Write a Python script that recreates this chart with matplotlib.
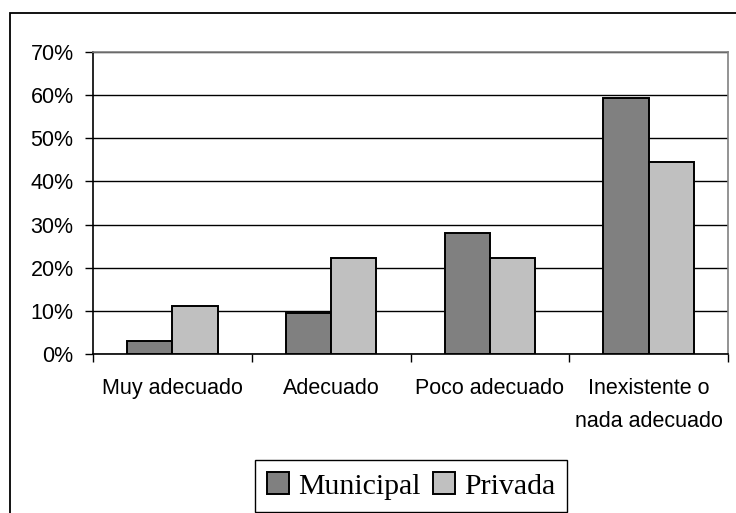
import numpy as np
import matplotlib.pyplot as plt
from matplotlib.patches import Rectangle
from matplotlib.ticker import FixedLocator

# data
categorias = ["Muy adecuado", "Adecuado", "Poco adecuado", "Inexistente o\nnada adecuado"]
municipal = [3.1, 9.4, 28.1, 59.4]
privada = [11.1, 22.2, 22.2, 44.4]
yticks = [0, 10, 20, 30, 40, 50, 60, 70]

plt.rcParams['font.family'] = ['Liberation Sans', 'DejaVu Sans']

fig = plt.figure(figsize=(7.36, 5.13), dpi=100)
ax = fig.add_axes([93/736, 1-354/513, (728-93)/736, (354-52)/513])

# outer frame of the chart (only left and top visible)
fig.patches.append(Rectangle((10/736, -0.2), 1.2, 0.2 + 1 - 13/513, transform=fig.transFigure,
                             fill=False, edgecolor='black', linewidth=1.3, zorder=0))

x = np.arange(len(categorias))
w = 1/3.5
ax.bar(x - w/2, municipal, w, color='#808080', edgecolor='black', linewidth=1.4, label='Municipal', zorder=3)
ax.bar(x + w/2, privada, w, color='#c0c0c0', edgecolor='black', linewidth=1.4, label='Privada', zorder=3)

ax.set_xlim(-0.5, len(categorias) - 0.5)
ax.set_ylim(0, 70)
ax.set_yticks(yticks)
ax.set_yticklabels([f"{v}%" for v in yticks], fontsize=15.5)
ax.yaxis.grid(True, color='black', linewidth=1.0, zorder=0)
ax.set_axisbelow(True)

ax.set_xticks(x)
ax.set_xticklabels(categorias, fontsize=15.5, linespacing=1.75, va='top')
ax.xaxis.set_minor_locator(FixedLocator(np.arange(len(categorias) + 1) - 0.5))
ax.tick_params(axis='x', which='major', length=0, pad=17)
ax.tick_params(axis='x', which='minor', length=6, width=1, direction='out')
ax.tick_params(axis='y', length=6, width=1, pad=8, direction='out')

ax.spines['left'].set_color('black')
ax.spines['bottom'].set_color('black')
ax.spines['top'].set_color('#808080')
ax.spines['right'].set_color('#808080')
for s in ax.spines.values():
    s.set_linewidth(1.2)

leg = fig.legend(loc='center', bbox_to_anchor=(411/736, 1-486/513), ncol=2,
                 prop={'family': 'Liberation Serif', 'size': 21.5},
                 handlelength=0.75, handleheight=0.75, handletextpad=0.3,
                 columnspacing=0.4, borderpad=0.4, fancybox=False, framealpha=1)
leg.get_frame().set_edgecolor('black')
leg.get_frame().set_linewidth(1.0)

fig.savefig('out.png', dpi=100)
